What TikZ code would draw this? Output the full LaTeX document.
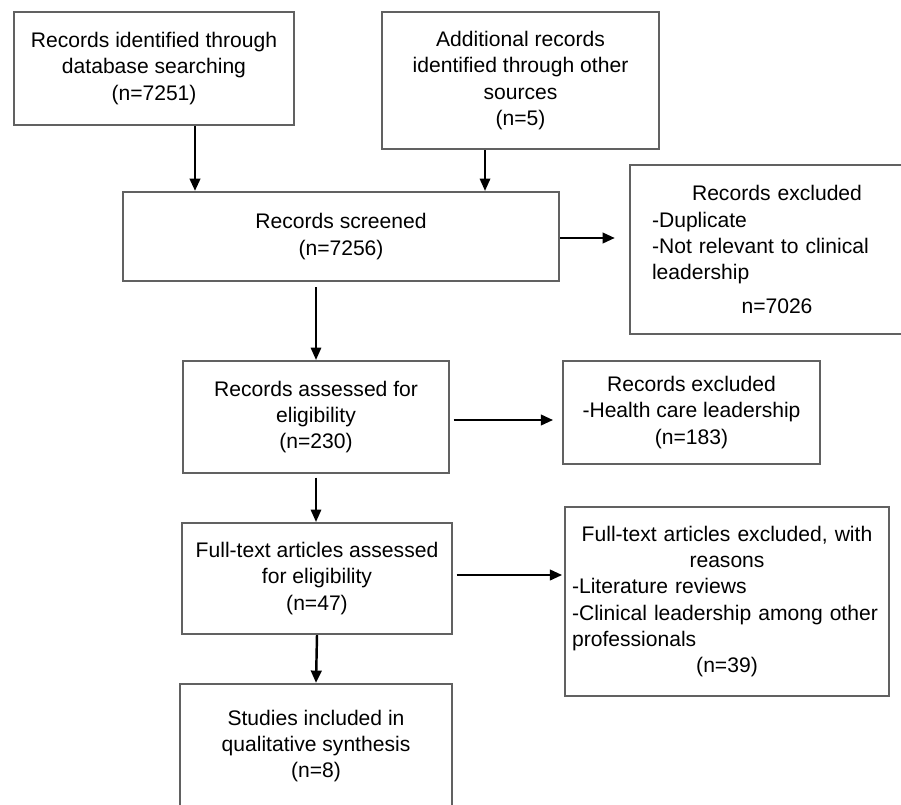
\documentclass[tikz,border=0pt]{standalone}
\usepackage{fontspec}
\setmainfont{Liberation Sans}
\usetikzlibrary{arrows.meta,positioning}
\tikzset{box/.style={rectangle,draw=black!62,line width=1.3pt,inner sep=0pt,
    align=center,font=\fontsize{12pt}{15pt}\selectfont}}
\tikzset{arr/.style={-{Triangle[length=7pt,width=6pt]},line width=1.4pt,black}}
\tikzset{thinarr/.style={arr,line width=0.9pt}}
\begin{document}
\begin{tikzpicture}[x=0.02cm,y=-0.02cm]
\useasboundingbox (0,0) rectangle (901,804);
% \draw[help lines,step=50] (0,0) grid (901,804);
\node (db) [box,minimum width=5.6cm,minimum height=2.26cm] at (154,68.5)
  {Records identified through\\database searching\\(n=7251)};
\node (other) [box,minimum width=5.54cm,minimum height=2.74cm] at (520.5,80.5)
  {Additional records\\identified through other\\sources\\(n=5)};
\node (screen) [box,minimum width=8.72cm,minimum height=1.78cm] at (341,236.5)
  {Records screened\\(n=7256)};
\node (excl1) [box,minimum width=5.88cm,minimum height=3.38cm,text width=5cm,align=left] at (777,249.5)
  {\makebox[\linewidth]{Records excluded}\\-Duplicate\\-Not relevant to clinical\\leadership\\[4pt]
   \makebox[\linewidth]{n=7026}};
\node (elig) [box,minimum width=5.32cm,minimum height=2.24cm] at (316,417)
  {Records assessed for\\eligibility\\(n=230)};
\node (excl2) [box,minimum width=5.14cm,minimum height=2.06cm] at (691.5,412.5)
  {Records excluded\\-Health care leadership\\(n=183)};
\node (full) [box,minimum width=5.4cm,minimum height=2.22cm] at (317,578.5)
  {Full-text articles assessed\\for eligibility\\(n=47)};
\node (excl3) [box,minimum width=6.48cm,minimum height=3.78cm,text width=6.2cm,align=left] at (727,601.5)
  {\makebox[\linewidth]{Full-text articles excluded, with}\\\makebox[\linewidth]{reasons}\\
   -Literature reviews\\-Clinical leadership among other\\professionals\\\makebox[\linewidth]{(n=39)}};
\node (incl) [box,minimum width=5.44cm,minimum height=2.48cm] at (316,746)
  {Studies included in\\qualitative synthesis\\(n=8)};
%
\path[arr] ([xshift=0.82cm]db.south) edge ([xshift=0.82cm]db.south |- screen.north);
\path[thinarr] ([xshift=-0.71cm]other.south) edge ([xshift=-0.71cm]other.south |- screen.north);
\path[arr,shorten >=8pt] (screen.east |- 0,238) edge (excl1.west |- 0,238);
\path[thinarr,shorten <=3pt] (elig.north |- screen.south) edge (elig.north);
\path[arr,shorten <=2pt,shorten >=5pt] (elig.east |- 0,420) edge (excl2.west |- 0,420);
\path[thinarr,shorten <=2pt] (elig.south) edge (elig.south |- full.north);
\path[arr,shorten <=2pt,shorten >=1pt] (full.east |- 0,575) edge (excl3.west |- 0,575);
\path[arr] (full.south) edge (incl.north);
\end{tikzpicture}
\end{document}
